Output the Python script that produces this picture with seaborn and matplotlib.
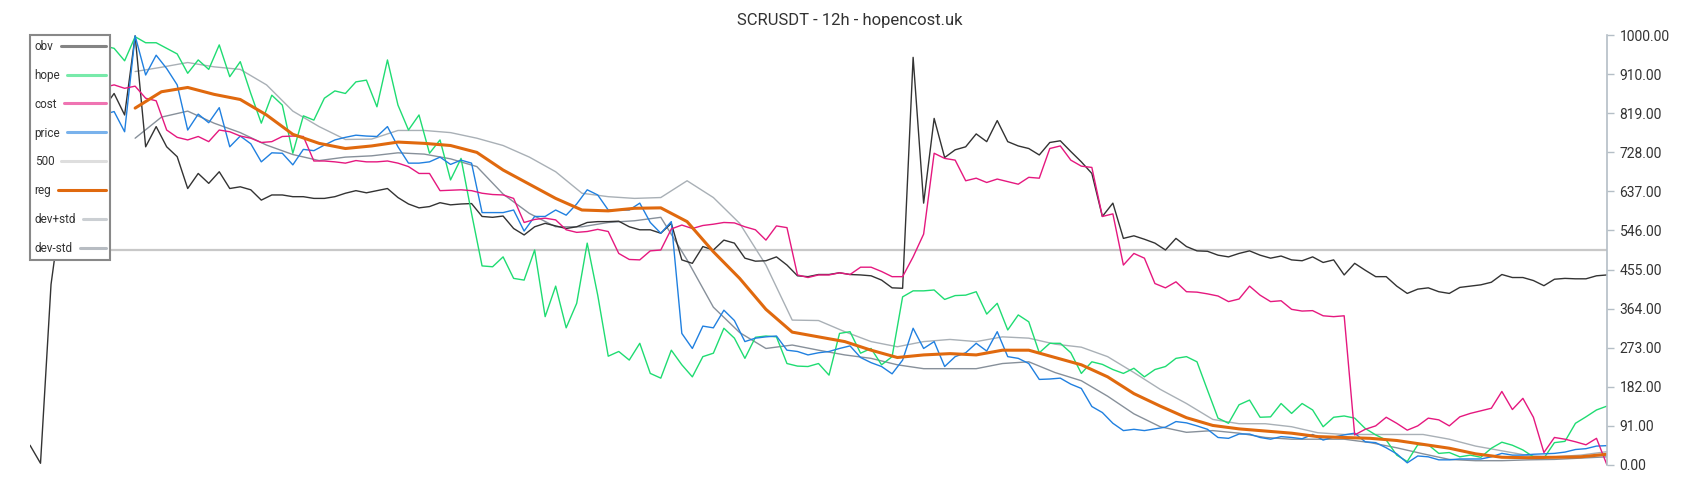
import numpy as np
import seaborn as sns
import matplotlib
matplotlib.use("Agg")
import matplotlib.pyplot as plt
from matplotlib.legend_handler import HandlerLine2D

sns.set_style("white")
plt.rcParams['font.family'] = ['Roboto', 'DejaVu Sans']

title = "SCRUSDT - 12h - hopencost.uk"

# candle index, fast series read every 2 bars
t_fast = np.arange(0, 301, 2)
# rolling series (reg / bands) start after the window, read every 5 bars
t_slow = np.arange(20, 301, 5)

obv = [46, 4, 420, 600, 700, 760, 800, 830, 864, 814, 998, 740, 787, 740, 717, 643, 678, 655, 682, 643,
       647, 640, 616, 628, 628, 624, 624, 620, 620,
       624, 632, 638, 633, 638, 643, 622, 607, 598, 601, 610, 605, 607, 608, 578, 576, 579, 550, 535, 554,
       562, 556, 550, 554, 564, 566, 566,
       567, 554, 547, 547, 539, 562, 477, 469, 508, 500, 523, 516, 481, 474, 475, 484, 465, 440, 438, 443,
       443, 447, 443, 442, 440, 430, 412, 411,
       948, 609, 806, 715, 733, 740, 770, 752, 801, 752, 742, 736, 721, 750, 754, 729, 705, 678, 578, 609,
       527, 533, 525, 516, 500, 527, 508,
       498, 497, 488, 484, 492, 498, 488, 481, 486, 477, 475, 484, 471, 477, 442, 469, 453, 438, 438, 416,
       399, 409, 412, 403, 399, 413, 416, 419,
       425, 443, 436, 436, 429, 417, 432, 434, 433, 433, 440, 442]

hope = [930, 950, 920, 960, 940, 970, 950, 975, 969, 940, 996, 982, 982, 969, 956, 911, 942, 920, 977, 903,
        938, 864, 795, 860, 837, 725, 812, 802, 853,
        870, 864, 891, 895, 833, 942, 837, 779, 814, 725, 756, 663, 713, 585, 463, 461, 484, 434, 430, 500,
        345, 416, 319, 376, 516, 395, 253,
        264, 244, 283, 213, 202, 267, 233, 205, 252, 260, 318, 295, 248, 297, 300, 298, 236, 230, 229, 236,
        209, 306, 310, 260, 271, 233, 252, 391,
        405, 405, 407, 385, 394, 395, 403, 351, 376, 314, 349, 333, 261, 283, 283, 261, 213, 240, 234, 222,
        213, 225, 205, 222, 229, 248, 252,
        240, 174, 109, 97, 140, 151, 111, 112, 143, 120, 143, 128, 89, 111, 114, 109, 85, 70, 58, 23,
        8, 47, 47, 27, 29, 19, 23, 18,
        39, 53, 46, 35, 19, 16, 52, 55, 97, 112, 128, 137]

cost = [860, 870, 880, 870, 875, 880, 872, 878, 884, 876, 881, 853, 847, 779, 762, 756, 764, 752, 779, 775,
        765, 760, 750, 752, 764, 765, 764, 707, 707,
        705, 702, 708, 705, 705, 707, 702, 694, 678, 678, 638, 639, 640, 638, 632, 629, 628, 620, 564, 571,
        574, 570, 547, 541, 543, 548, 543,
        492, 478, 477, 498, 500, 549, 558, 550, 557, 560, 564, 563, 554, 547, 523, 556, 552, 442, 436, 442,
        442, 447, 443, 460, 460, 450, 438, 438,
        484, 537, 725, 713, 709, 661, 667, 657, 665, 659, 653, 669, 667, 736, 742, 709, 695, 692, 578, 584,
        465, 492, 481, 422, 412, 426, 403,
        402, 398, 393, 380, 386, 416, 395, 380, 382, 362, 358, 359, 347, 345, 347, 70, 83, 91, 111, 97,
        81, 91, 109, 105, 91, 112, 120, 126,
        132, 171, 129, 155, 111, 29, 64, 60, 54, 47, 62, 0]

price = [850, 830, 860, 840, 820, 845, 830, 815, 822, 775, 998, 907, 953, 922, 884, 779, 816, 796, 831, 740,
         765, 747, 705, 726, 725, 698, 734, 731, 744,
         756, 762, 767, 765, 764, 787, 740, 702, 702, 705, 716, 699, 709, 702, 587, 587, 587, 593, 544, 578,
         578, 593, 581, 607, 640, 628, 593,
         593, 593, 609, 564, 539, 566, 306, 271, 323, 319, 360, 336, 287, 295, 298, 300, 267, 264, 256, 261,
         264, 271, 277, 250, 238, 229, 212, 244,
         318, 271, 287, 229, 252, 261, 283, 265, 310, 252, 248, 236, 199, 200, 202, 188, 178, 136, 122, 97,
         80, 83, 80, 84, 88, 101, 98,
         91, 83, 64, 62, 72, 72, 64, 60, 66, 64, 61, 71, 58, 65, 70, 74, 54, 52, 40, 26,
         5, 21, 19, 12, 12, 14, 14, 14,
         19, 27, 23, 23, 25, 26, 27, 30, 36, 38, 44, 45]

reg = [830, 868, 878, 862, 850, 814, 769, 748,
       736, 742, 751, 748, 743, 727, 686, 653, 620, 593, 591,
       597, 598, 566, 496, 434, 362, 309, 298, 287, 267, 250,
       256, 259, 256, 267, 267, 250, 233, 205, 166, 137, 110,
       92, 84, 79, 74, 66, 64, 62, 57, 48, 39, 26,
       18, 17, 18, 19, 25]

dev_plus = [915, 925, 936, 926, 920, 884, 823, 787,
            757, 758, 778, 778, 773, 760, 743, 716, 682, 632, 624,
            620, 622, 661, 622, 562, 465, 337, 336, 310, 287, 275,
            287, 292, 287, 298, 295, 281, 274, 252, 215, 176, 143,
            106, 96, 96, 89, 75, 71, 71, 71, 71, 60, 44,
            33, 22, 19, 23, 31]

dev_minus = [760, 809, 823, 795, 773, 744, 722, 708,
             716, 719, 726, 723, 712, 694, 630, 585, 554, 554, 564,
             568, 576, 477, 367, 308, 271, 279, 267, 256, 248, 233,
             224, 224, 224, 236, 240, 215, 196, 160, 119, 89, 76,
             80, 74, 64, 60, 60, 60, 52, 40, 26, 13, 10,
             10, 12, 13, 16, 19]

level = 500

ytick_vals = np.linspace(0, 1000, 12)
ytick_labels = ["0.00", "91.00", "182.00", "273.00", "364.00", "455.00",
                "546.00", "637.00", "728.00", "819.00", "910.00", "1000.00"]

legend_order = ["obv", "hope", "cost", "price", "500", "reg", "dev+std", "dev-std"]


class StretchLine(HandlerLine2D):
    # legend line that grows to the right so every handle ends at the same x
    def __init__(self, extra, **kw):
        super().__init__(**kw)
        self.extra = extra

    def create_artists(self, legend, orig_handle, xdescent, ydescent, width, height, fontsize, trans):
        return super().create_artists(legend, orig_handle, xdescent, ydescent,
                                      width + self.extra, height, fontsize, trans)


fig = plt.figure(figsize=(17, 5), dpi=100)
ax = fig.add_axes([30 / 1700, 35 / 500, 1577 / 1700, 430 / 500])

ax.axhline(level, color='#c8c8c8', lw=1.6, label='500', zorder=1)
sns.lineplot(x=t_slow, y=dev_plus, ax=ax, color='#a9b0b6', lw=1, label='dev+std')
sns.lineplot(x=t_slow, y=dev_minus, ax=ax, color='#87909a', lw=1, label='dev-std')
sns.lineplot(x=t_fast, y=obv, ax=ax, color='#333333', lw=1, label='obv')
sns.lineplot(x=t_fast, y=hope, ax=ax, color='#1fdc72', lw=1, label='hope')
sns.lineplot(x=t_fast, y=price, ax=ax, color='#2080e0', lw=1, label='price')
sns.lineplot(x=t_fast, y=cost, ax=ax, color='#e5187f', lw=1, label='cost')
sns.lineplot(x=t_slow, y=reg, ax=ax, color='#e0690e', lw=2.2, label='reg')

ax.set_xlim(0, 300)
ax.set_ylim(0, 1000)
ax.set_xticks([])
ax.set_xlabel('')
ax.set_ylabel('')

ax.yaxis.tick_right()
ax.set_yticks(ytick_vals, ytick_labels)
ax.tick_params(axis='y', right=True, left=False, length=5, width=1, color='#b4bec6',
               labelsize=10, labelcolor='#333333', pad=4)
for side in ['top', 'left', 'bottom']:
    ax.spines[side].set_visible(False)
ax.spines['right'].set_color('#b4bec6')
ax.spines['right'].set_linewidth(1.2)

hd = dict(zip(*ax.get_legend_handles_labels()[::-1]))
handles = [hd[n] for n in legend_order]
leg_kw = dict(loc='upper left', bbox_to_anchor=(0, 1.0), borderaxespad=0, frameon=True,
              fancybox=False, edgecolor='#888888', framealpha=1, fontsize=8.5, markerfirst=False,
              handlelength=1.9, handletextpad=0.6, labelspacing=1.35, borderpad=0.4)

# first pass only to measure the label widths
leg = ax.legend(handles, legend_order, **leg_kw)
fig.canvas.draw()
widths = [t.get_window_extent().width * 72 / fig.dpi for t in leg.get_texts()]
wmax = max(widths)
hmap = {h: StretchLine(wmax - w) for h, w in zip(handles, widths)}

leg = ax.legend(handles, legend_order, handler_map=hmap, **leg_kw)
for col in leg._legend_handle_box.get_children():
    col.align = 'left'
leg.get_frame().set_linewidth(1.5)
for txt in leg.get_texts():
    txt.set_color('#333333')
for line, name in zip(leg.get_lines(), legend_order):
    line.set_linewidth(2.2)
    if name != 'reg':
        line.set_alpha(0.6)

fig.suptitle(title, x=0.5, y=1 - 21 / 500, va='center', fontsize=12, color='#333333')

fig.savefig('out.png', dpi=100)
